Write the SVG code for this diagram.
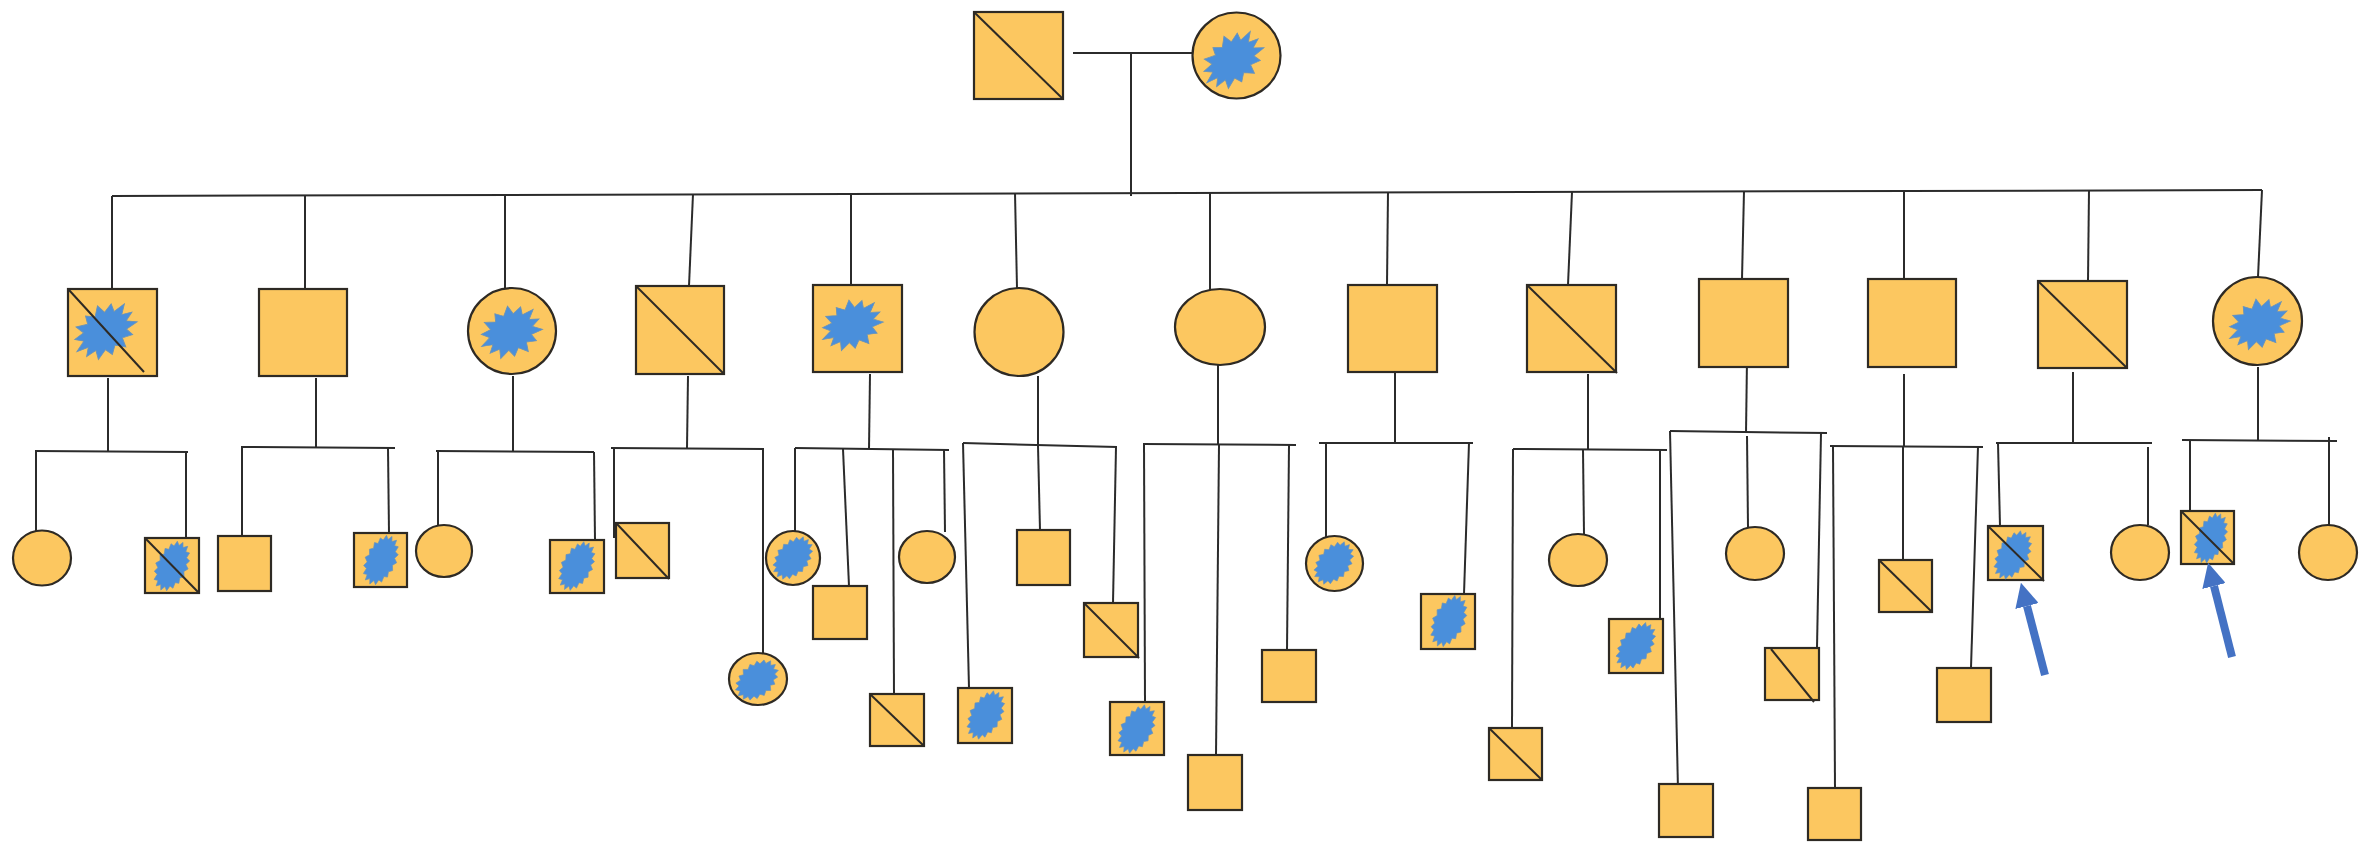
<svg xmlns="http://www.w3.org/2000/svg" xmlns:xlink="http://www.w3.org/1999/xlink" width="2359" height="843" viewBox="0 0 2359 843">
<style>
.n{fill:#FCC760;stroke:#2e2a24;stroke-width:2.2}
.s{stroke:#2e2a24;stroke-width:2;fill:none}
.c line,.c polyline{stroke:#2b2b2b;stroke-width:2;fill:none}
.b{fill:#4A8FDB;stroke:#6a93b8;stroke-width:0.3}
.ar{stroke:#4472C4;stroke-width:8;fill:none}
</style>
<defs>
<path id="burst" d="M10,0 L7.02,1.6 L9.6,4.6 L5.63,4.49 L6.24,7.82 L3.12,6.49 L2.4,10.4 L0,7.2 L-2.23,9.75 L-3.12,6.49 L-6.6,8.2 L-5.63,4.49 L-9.01,4.34 L-7.02,1.6 L-10.6,0.3 L-7.02,-1.6 L-9.01,-4.34 L-5.63,-4.49 L-6.5,-8.3 L-3.12,-6.49 L-2.23,-9.75 L0,-7.2 L2.5,-10.4 L3.12,-6.49 L6.24,-7.82 L5.63,-4.49 L9.6,-4.7 L7.02,-1.6 Z"/>
<path id="blob" d="M10,0 L8.2,1.3 L9.4,3.6 L7.2,3.9 L7.4,6.3 L5.2,5.9 L4.6,8.4 L2.8,7.2 L1.6,9.6 L0,7.9 L-1.8,9.4 L-2.9,7.3 L-4.9,8.2 L-5.3,6.0 L-7.6,6.2 L-7.3,4.0 L-9.5,3.4 L-8.3,1.4 L-10.2,0 L-8.3,-1.4 L-9.5,-3.6 L-7.3,-4.0 L-7.6,-6.4 L-5.3,-6.0 L-4.7,-8.4 L-2.9,-7.3 L-1.6,-9.7 L0,-7.9 L1.9,-9.4 L2.9,-7.3 L5.0,-8.3 L5.3,-6.0 L7.6,-6.2 L7.3,-4.0 L9.5,-3.4 L8.3,-1.4 Z"/>
<marker id="ah" markerUnits="userSpaceOnUse" viewBox="0 0 10 10" markerWidth="24" markerHeight="24" refX="0" refY="5" orient="auto">
<path d="M0,0 L10,5 L0,10 Z" fill="#4472C4"/>
</marker>
</defs>
<rect width="2359" height="843" fill="#ffffff"/>

<g id="connectors" class="c">
<line x1="1073" y1="53" x2="1192" y2="53"/>
<line x1="1131" y1="53" x2="1131" y2="196"/>
<line x1="112" y1="196" x2="2262" y2="190"/>
<line x1="112" y1="196" x2="112" y2="289"/>
<line x1="305" y1="195" x2="305" y2="289"/>
<line x1="505" y1="195" x2="505" y2="288"/>
<line x1="693" y1="194" x2="689" y2="286"/>
<line x1="851" y1="194" x2="851" y2="285"/>
<line x1="1015" y1="193" x2="1017" y2="288"/>
<line x1="1210" y1="193" x2="1210" y2="294"/>
<line x1="1388" y1="192" x2="1387" y2="285"/>
<line x1="1572" y1="192" x2="1568" y2="285"/>
<line x1="1744" y1="191" x2="1742" y2="279"/>
<line x1="1904" y1="191" x2="1904" y2="279"/>
<line x1="2089" y1="190" x2="2088" y2="281"/>
<line x1="2262" y1="190" x2="2258" y2="277"/>
<!-- II-1 -->
<line x1="108" y1="378" x2="108" y2="452"/>
<line x1="35" y1="451" x2="188" y2="452"/>
<line x1="36" y1="451" x2="36" y2="531"/>
<line x1="186" y1="452" x2="186" y2="538"/>
<!-- II-2 -->
<line x1="316" y1="378" x2="316" y2="447"/>
<line x1="241" y1="447" x2="395" y2="448"/>
<line x1="242" y1="447" x2="242" y2="536"/>
<line x1="388" y1="448" x2="389" y2="533"/>
<!-- II-3 -->
<line x1="513" y1="376" x2="513" y2="451"/>
<line x1="436" y1="451" x2="594" y2="452"/>
<line x1="438" y1="451" x2="438" y2="525"/>
<line x1="594" y1="452" x2="595" y2="540"/>
<!-- II-4 -->
<line x1="688" y1="376" x2="687" y2="448"/>
<line x1="611" y1="448" x2="764" y2="449"/>
<line x1="614" y1="448" x2="614" y2="538"/>
<line x1="763" y1="449" x2="763" y2="653"/>
<!-- II-5 -->
<line x1="870" y1="374" x2="869" y2="449"/>
<line x1="795" y1="448" x2="949" y2="450"/>
<line x1="795" y1="448" x2="795" y2="531"/>
<line x1="843" y1="449" x2="849" y2="586"/>
<line x1="893" y1="449" x2="894" y2="694"/>
<line x1="944" y1="450" x2="945" y2="532"/>
<!-- II-6 -->
<line x1="1038" y1="376" x2="1038" y2="446"/>
<line x1="963" y1="443" x2="1117" y2="447"/>
<line x1="963" y1="443" x2="969" y2="688"/>
<line x1="1038" y1="446" x2="1040" y2="530"/>
<line x1="1116" y1="447" x2="1113" y2="603"/>
<!-- II-7 -->
<line x1="1218" y1="365" x2="1218" y2="445"/>
<line x1="1143" y1="444" x2="1296" y2="445"/>
<line x1="1144" y1="444" x2="1145" y2="702"/>
<line x1="1219" y1="445" x2="1216" y2="755"/>
<line x1="1289" y1="445" x2="1287" y2="650"/>
<!-- II-8 -->
<line x1="1395" y1="372" x2="1395" y2="443"/>
<line x1="1319" y1="443" x2="1473" y2="443"/>
<line x1="1326" y1="443" x2="1326" y2="537"/>
<line x1="1469" y1="443" x2="1464" y2="594"/>
<!-- II-9 -->
<line x1="1588" y1="374" x2="1588" y2="449"/>
<line x1="1513" y1="449" x2="1667" y2="450"/>
<line x1="1513" y1="449" x2="1512" y2="728"/>
<line x1="1583" y1="450" x2="1584" y2="534"/>
<line x1="1660" y1="450" x2="1660" y2="619"/>
<!-- II-10 -->
<line x1="1747" y1="359" x2="1746" y2="433"/>
<line x1="1670" y1="431" x2="1827" y2="433"/>
<line x1="1670" y1="431" x2="1678" y2="790"/>
<line x1="1747" y1="436" x2="1748" y2="527"/>
<line x1="1821" y1="433" x2="1817" y2="648"/>
<!-- II-11 -->
<line x1="1904" y1="374" x2="1904" y2="447"/>
<line x1="1830" y1="446" x2="1983" y2="447"/>
<line x1="1833" y1="446" x2="1835" y2="788"/>
<line x1="1903" y1="447" x2="1903" y2="560"/>
<line x1="1978" y1="447" x2="1971" y2="668"/>
<!-- II-12 -->
<line x1="2073" y1="372" x2="2073" y2="443"/>
<line x1="1996" y1="443" x2="2152" y2="443"/>
<line x1="1998" y1="443" x2="2000" y2="526"/>
<line x1="2148" y1="447" x2="2148" y2="525"/>
<!-- II-13 -->
<line x1="2258" y1="367" x2="2258" y2="441"/>
<line x1="2182" y1="440" x2="2337" y2="441"/>
<line x1="2190" y1="441" x2="2190" y2="511"/>
<line x1="2329" y1="437" x2="2329" y2="525"/>
</g>

<g id="I-1"><rect class="n" x="974" y="12" width="89" height="87"/><line class="s" x1="975" y1="13" x2="1063" y2="99"/></g>
<g id="I-2"><ellipse class="n" cx="1236.5" cy="55.5" rx="44" ry="43"/><use class="b" href="#burst" transform="translate(1233,60) rotate(-40) scale(3.3,2.3)"/></g>

<g id="II-1"><rect class="n" x="68" y="289" width="89" height="87"/><use class="b" href="#burst" transform="translate(105,331) rotate(-35) scale(3.3,2.4)"/><line class="s" x1="69" y1="290" x2="144" y2="372"/></g>
<g id="II-2"><rect class="n" x="259" y="289" width="88" height="87"/></g>
<g id="II-3"><ellipse class="n" cx="512" cy="331" rx="44" ry="43"/><use class="b" href="#burst" transform="translate(511,332) rotate(-25) scale(3.1,2.4)"/></g>
<g id="II-4"><rect class="n" x="636" y="286" width="88" height="88"/><line class="s" x1="637" y1="287" x2="724" y2="374"/></g>
<g id="II-5"><rect class="n" x="813" y="285" width="89" height="87"/><use class="b" href="#burst" transform="translate(852,325) rotate(-25) scale(3.1,2.3)"/></g>
<g id="II-6"><ellipse class="n" cx="1019" cy="332" rx="44.5" ry="44"/></g>
<g id="II-7"><ellipse class="n" cx="1220" cy="327" rx="45" ry="38"/></g>
<g id="II-8"><rect class="n" x="1348" y="285" width="89" height="87"/></g>
<g id="II-9"><rect class="n" x="1527" y="285" width="89" height="87"/><line class="s" x1="1528" y1="286" x2="1617" y2="373"/></g>
<g id="II-10"><rect class="n" x="1699" y="279" width="89" height="88"/></g>
<g id="II-11"><rect class="n" x="1868" y="279" width="88" height="88"/></g>
<g id="II-12"><rect class="n" x="2038" y="281" width="89" height="87"/><line class="s" x1="2039" y1="282" x2="2127" y2="368"/></g>
<g id="II-13"><ellipse class="n" cx="2257.5" cy="321" rx="44.5" ry="44"/><use class="b" href="#burst" transform="translate(2259,324) rotate(-25) scale(3.1,2.3)"/></g>

<g id="III-1"><ellipse class="n" cx="42" cy="558" rx="29" ry="27.5"/></g>
<g id="III-2"><rect class="n" x="145" y="538" width="54" height="55"/><use class="b" href="#blob" transform="translate(172,566) rotate(-65) scale(2.6,1.65)"/><line class="s" x1="146" y1="539" x2="199" y2="593"/></g>
<g id="III-3"><rect class="n" x="218" y="536" width="53" height="55"/></g>
<g id="III-4"><rect class="n" x="354" y="533" width="53" height="54"/><use class="b" href="#blob" transform="translate(381,560) rotate(-65) scale(2.6,1.6)"/></g>
<g id="III-5"><ellipse class="n" cx="444" cy="551" rx="28" ry="26"/></g>
<g id="III-6"><rect class="n" x="550" y="540" width="54" height="53"/><use class="b" href="#blob" transform="translate(577,566) rotate(-62) scale(2.6,1.6)"/></g>
<g id="III-7"><rect class="n" x="616" y="523" width="53" height="55"/><line class="s" x1="617" y1="524" x2="669" y2="579"/></g>
<g id="III-8"><ellipse class="n" cx="758" cy="679" rx="29" ry="26"/><use class="b" href="#blob" transform="translate(757,680) rotate(-40) scale(2.4,1.75)"/></g>
<g id="III-9"><ellipse class="n" cx="793" cy="558" rx="27" ry="27"/><use class="b" href="#blob" transform="translate(793,558) rotate(-50) scale(2.4,1.7)"/></g>
<g id="III-10"><rect class="n" x="813" y="586" width="54" height="53"/></g>
<g id="III-11"><rect class="n" x="870" y="694" width="54" height="52"/><line class="s" x1="871" y1="695" x2="924" y2="746"/></g>
<g id="III-12"><ellipse class="n" cx="927" cy="557" rx="28" ry="26"/></g>
<g id="III-13"><rect class="n" x="958" y="688" width="54" height="55"/><use class="b" href="#blob" transform="translate(986,715) rotate(-60) scale(2.6,1.65)"/></g>
<g id="III-14"><rect class="n" x="1017" y="530" width="53" height="55"/></g>
<g id="III-15"><rect class="n" x="1084" y="603" width="54" height="54"/><line class="s" x1="1085" y1="604" x2="1139" y2="658"/></g>
<g id="III-16"><rect class="n" x="1110" y="702" width="54" height="53"/><use class="b" href="#blob" transform="translate(1137,729) rotate(-60) scale(2.6,1.65)"/></g>
<g id="III-17"><rect class="n" x="1188" y="755" width="54" height="55"/></g>
<g id="III-18"><rect class="n" x="1262" y="650" width="54" height="52"/></g>
<g id="III-19"><ellipse class="n" cx="1334.5" cy="563.5" rx="28.5" ry="27.5"/><use class="b" href="#blob" transform="translate(1334,563) rotate(-50) scale(2.4,1.7)"/></g>
<g id="III-20"><rect class="n" x="1421" y="594" width="54" height="55"/><use class="b" href="#blob" transform="translate(1449,621) rotate(-65) scale(2.7,1.65)"/></g>
<g id="III-21"><rect class="n" x="1489" y="728" width="53" height="52"/><line class="s" x1="1490" y1="729" x2="1542" y2="780"/></g>
<g id="III-22"><ellipse class="n" cx="1578" cy="560" rx="29" ry="26"/></g>
<g id="III-23"><rect class="n" x="1609" y="619" width="54" height="54"/><use class="b" href="#blob" transform="translate(1636,646) rotate(-55) scale(2.6,1.65)"/></g>
<g id="III-24"><rect class="n" x="1659" y="784" width="54" height="53"/></g>
<g id="III-25"><ellipse class="n" cx="1755" cy="553.5" rx="29" ry="26.5"/></g>
<g id="III-26"><rect class="n" x="1765" y="648" width="54" height="52"/><line class="s" x1="1771" y1="649" x2="1814" y2="702"/></g>
<g id="III-27"><rect class="n" x="1808" y="788" width="53" height="52"/></g>
<g id="III-28"><rect class="n" x="1879" y="560" width="53" height="52"/><line class="s" x1="1880" y1="561" x2="1932" y2="612"/></g>
<g id="III-29"><rect class="n" x="1937" y="668" width="54" height="54"/></g>
<g id="III-30"><rect class="n" x="1988" y="526" width="55" height="54"/><use class="b" href="#blob" transform="translate(2013,555) rotate(-60) scale(2.6,1.65)"/><line class="s" x1="1989" y1="527" x2="2044" y2="581"/></g>
<g id="III-31"><ellipse class="n" cx="2140" cy="552.5" rx="29" ry="27.5"/></g>
<g id="III-32"><rect class="n" x="2181" y="511" width="53" height="53"/><use class="b" href="#blob" transform="translate(2211,538) rotate(-68) scale(2.6,1.55)"/><line class="s" x1="2182" y1="512" x2="2234" y2="564"/></g>
<g id="III-33"><ellipse class="n" cx="2328" cy="552.5" rx="29" ry="27.5"/></g>

<g id="arrows">
<line class="ar" x1="2045" y1="675" x2="2027" y2="606" marker-end="url(#ah)"/>
<line class="ar" x1="2232" y1="657" x2="2214" y2="586" marker-end="url(#ah)"/>
</g>
</svg>
